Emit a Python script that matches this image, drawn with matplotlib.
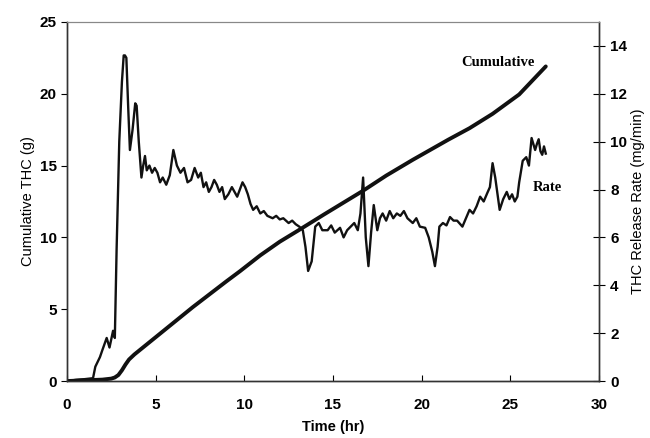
import numpy as np
import matplotlib.pyplot as plt

# cumulative THC (g) vs time (hr), left axis
cum_t = [0, 1.0, 2.0, 2.5, 2.7, 2.9, 3.1, 3.3, 3.5, 3.8, 4.2, 5.25, 7.1, 9.0,
         9.76, 10.9, 12.0, 13.0, 14.5, 16.7, 18.0, 19.5, 20.5, 21.5, 22.7,
         24.0, 25.5, 27.0]
cum_g = [0, 0.05, 0.1, 0.17, 0.25, 0.42, 0.75, 1.15, 1.5, 1.85, 2.25, 3.3,
         5.15, 6.95, 7.65, 8.75, 9.7, 10.45, 11.6, 13.25, 14.3, 15.4, 16.1,
         16.8, 17.6, 18.6, 19.95, 21.9]

# release rate (mg/min) vs time (hr), right axis
rate_t = [0, 0.5, 1.0, 1.47, 1.6, 1.86, 2.0, 2.24, 2.4, 2.6, 2.7, 2.8, 2.95,
          3.1, 3.2, 3.27, 3.35, 3.45, 3.55, 3.7, 3.85, 3.93, 4.05, 4.2, 4.3,
          4.4, 4.5, 4.65, 4.8, 4.95, 5.1, 5.25, 5.4, 5.6, 5.8, 6.0, 6.2, 6.4,
          6.6, 6.8, 7.0, 7.2, 7.4, 7.55, 7.7, 7.85, 8.0, 8.15, 8.3, 8.45, 8.6,
          8.75, 8.9, 9.1, 9.3, 9.45, 9.6, 9.75, 9.9, 10.05, 10.2, 10.35, 10.5,
          10.7, 10.9, 11.1, 11.3, 11.6, 11.8, 12.0, 12.2, 12.5, 12.7, 12.9,
          13.1, 13.3, 13.45, 13.6, 13.8, 14.0, 14.2, 14.4, 14.7, 14.9, 15.1,
          15.4, 15.6, 15.8, 16.0, 16.2, 16.4, 16.55, 16.7, 16.85, 17.0, 17.15,
          17.3, 17.5, 17.65, 17.8, 18.0, 18.2, 18.4, 18.6, 18.8, 19.0, 19.2,
          19.5, 19.7, 19.9, 20.2, 20.4, 20.6, 20.75, 20.9, 21.0, 21.2, 21.4,
          21.6, 21.8, 22.0, 22.3, 22.5, 22.7, 22.9, 23.1, 23.3, 23.5, 23.7,
          23.85, 24.0, 24.15, 24.3, 24.4, 24.6, 24.8, 24.95, 25.1, 25.25,
          25.4, 25.5, 25.7, 25.9, 26.05, 26.2, 26.4, 26.5, 26.6, 26.7, 26.8,
          26.9, 27.0]
rate_v = [0, 0.05, 0.08, 0.12, 0.6, 1.0, 1.3, 1.8, 1.4, 2.1, 1.8, 5.5, 10.0,
          12.5, 13.6, 13.6, 13.5, 11.5, 9.65, 10.5, 11.6, 11.5, 10.0, 8.5, 9.0,
          9.4, 8.8, 9.0, 8.7, 8.9, 8.7, 8.3, 8.5, 8.2, 8.6, 9.65, 9.0, 8.7,
          8.9, 8.3, 8.4, 8.9, 8.5, 8.7, 8.1, 8.3, 7.9, 8.1, 8.4, 8.2, 7.9,
          8.1, 7.6, 7.8, 8.1, 7.9, 7.7, 8.0, 8.3, 8.1, 7.8, 7.4, 7.15, 7.3,
          7.0, 7.1, 6.9, 6.8, 6.9, 6.75, 6.8, 6.6, 6.7, 6.55, 6.45, 6.3, 5.6,
          4.6, 5.0, 6.45, 6.6, 6.3, 6.3, 6.5, 6.2, 6.4, 6.0, 6.3, 6.45, 6.6,
          6.3, 7.0, 8.5, 6.0, 4.8, 6.2, 7.35, 6.3, 6.8, 7.0, 6.7, 7.1, 6.8,
          7.0, 6.9, 7.1, 6.8, 6.6, 6.8, 6.45, 6.4, 6.0, 5.4, 4.8, 5.6, 6.45,
          6.6, 6.5, 6.85, 6.7, 6.7, 6.45, 6.8, 7.15, 7.0, 7.3, 7.7, 7.5,
          7.85, 8.1, 9.1, 8.5, 7.7, 7.15, 7.6, 7.9, 7.6, 7.8, 7.5, 7.7, 8.3,
          9.2, 9.35, 9.0, 10.15, 9.65, 9.9, 10.1, 9.6, 9.45, 9.8, 9.5]

plt.rcParams['font.family'] = ['Liberation Sans', 'DejaVu Sans']

fig = plt.figure(figsize=(6.5, 4.38), dpi=100)
ax = fig.add_axes([0.103, 0.130, 0.8185, 0.820])
ax2 = ax.twinx()

ax.plot(cum_t, cum_g, color='#111111', lw=2.8, solid_capstyle='round')
ax2.plot(rate_t, rate_v, color='#111111', lw=1.7)

ax.set_xlim(0, 30)
ax.set_ylim(0, 25)
ax2.set_ylim(0, 15)
ax.set_xticks(range(0, 31, 5))
ax.set_yticks(range(0, 26, 5))
ax2.set_yticks(range(0, 15, 2))

for a in (ax, ax2):
    for s in a.spines.values():
        s.set_linewidth(1.0)
        s.set_color('#333333')
    a.spines['top'].set_color('#888888')
    a.spines['top'].set_linewidth(0.8)

ax.tick_params(axis='x', direction='in', length=4, labelsize=11, pad=12)
ax.tick_params(axis='y', direction='out', length=4, labelsize=11)
ax2.tick_params(axis='y', direction='inout', length=8, labelsize=11, pad=4)
for lab in ax.get_xticklabels() + ax.get_yticklabels() + ax2.get_yticklabels():
    lab.set_fontweight('bold')

ax.set_xlabel('Time (hr)', fontsize=10.5, fontweight='bold', labelpad=6)
ax.set_ylabel('Cumulative THC (g)', fontsize=10.5, labelpad=3)
ax2.set_ylabel('THC Release Rate (mg/min)', fontsize=10.5, labelpad=3)

ax.text(24.3, 22.2, 'Cumulative', family='Liberation Serif', fontweight='bold',
        fontsize=10.5, ha='center', va='center')
ax2.text(27.1, 8.1, 'Rate', family='Liberation Serif', fontweight='bold',
         fontsize=10.5, ha='center', va='center')

fig.savefig('out.png', dpi=100)
